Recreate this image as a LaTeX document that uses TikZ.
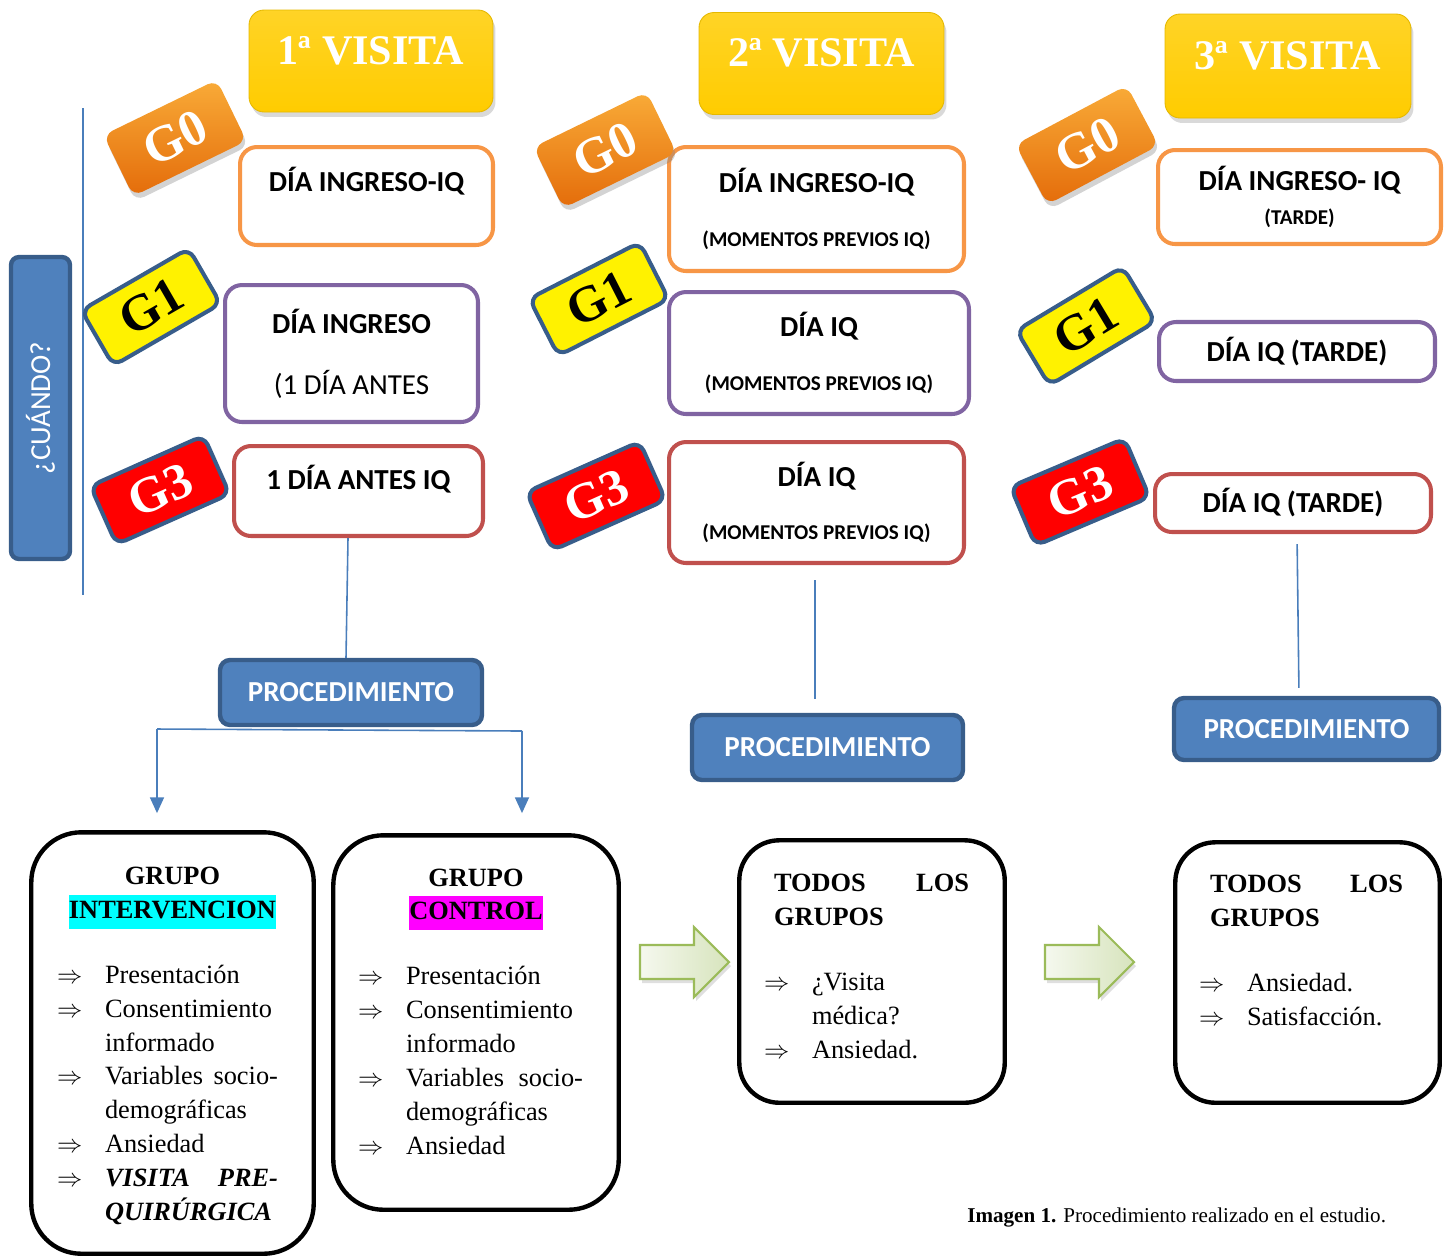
\documentclass[tikz,border=0pt]{standalone}
\usepackage{fontspec}
\setmainfont{Liberation Serif}
\newfontfamily\calibri{Carlito}
\usetikzlibrary{arrows.meta,shadows}
\definecolor{oro}{HTML}{FFCC00}
\definecolor{naranja}{HTML}{F79646}
\definecolor{naranjaosc}{HTML}{E46C0A}
\definecolor{morado}{HTML}{8064A2}
\definecolor{rojo}{HTML}{C0504D}
\definecolor{azul}{HTML}{4F81BD}
\definecolor{azulosc}{HTML}{385D8A}
\definecolor{linea}{HTML}{4A7EBB}
\definecolor{verde}{HTML}{9BBB59}
\definecolor{cian}{HTML}{00FFFF}
\definecolor{fucsia}{HTML}{FF00FF}
\setlength{\fboxsep}{0pt}
\newcommand{\flecha}{\par\hangindent=0.96cm\hangafter=1\noindent\makebox[0.96cm][l]{$\Rightarrow$}}
\newcommand{\subir}[1]{\par\vspace{#1}\hrule height 0pt}
\begin{document}
\begin{tikzpicture}[x=0.02cm, y=-0.02cm,
  bline/.style={draw=linea, line width=0.9pt},
  barrow/.style={bline, -{Triangle[width=8pt,length=9pt]}},
  visita/.style={rounded corners=0.3cm, top color=oro!85!white, bottom color=oro, draw=oro!90!black, line width=0.5pt,
    drop shadow={shadow xshift=0.5mm, shadow yshift=-1mm, opacity=0.3},
    text=white, font=\bfseries\fontsize{24}{28}\selectfont, inner sep=0pt,
    minimum width=4.88cm, minimum height=2.04cm, text height=0.56cm, text depth=0.44cm},
  gbox/.style={rounded corners=0.2cm, inner sep=0pt, minimum width=2.48cm, minimum height=1.28cm,
    draw=azulosc, line width=2.3pt, font=\bfseries\fontsize{29}{32}\selectfont},
  gcero/.style={gbox, draw=none, minimum width=2.52cm, minimum height=1.36cm, top color=naranja!80!yellow,
    bottom color=naranjaosc, text=white, drop shadow={shadow xshift=0.4mm, shadow yshift=-1mm, opacity=0.35}},
  guno/.style={gbox, fill=yellow},
  gtres/.style={gbox, fill=red, text=white},
  dia/.style={rounded corners=0.34cm, draw=#1, line width=2.3pt, fill=white, inner sep=0pt, align=center,
    font=\calibri\bfseries\fontsize{16.5}{20}\selectfont},
  proc/.style={rounded corners=0.2cm, fill=azul, draw=azulosc, line width=2.5pt, text=white, inner sep=0pt,
    font=\calibri\bfseries\fontsize{16.5}{20}\selectfont},
  grupo/.style={rounded corners=1cm, draw=black, line width=2.5pt, inner sep=0pt, align=justify,
    font=\fontsize{15}{19.3}\selectfont},
  garrow/.style={draw=verde, line width=1.2pt, left color=verde!10!white, right color=verde!40!white,
    drop shadow={shadow xshift=0.4mm, shadow yshift=-0.8mm, opacity=0.25}},
]
\useasboundingbox (0,0) rectangle (1449,1259);
\draw (371,61) node[visita] (vis1) {1ª VISITA};
\draw (821.5,63.5) node[visita, minimum width=4.9cm] (vis2) {2ª VISITA};
\draw (1288,66) node[visita, minimum width=4.92cm, minimum height=2.08cm] (vis3) {3ª VISITA};
\draw[bline] (83,108) -- (83,595);
\draw (40.5,408) node[proc, rotate=90, rounded corners=0.16cm, minimum width=6.04cm, minimum height=1.18cm,
  font=\calibri\fontsize{16.5}{20}\selectfont] (cuando) {¿CUÁNDO?};
\draw (366.5,196) node[dia=naranja, minimum width=5.06cm, minimum height=1.96cm, text height=0.38cm, text depth=0.56cm] (d0a) {DÍA INGRESO-IQ};
\draw (351.5,353.5) node[dia=morado, minimum width=5.06cm, minimum height=2.74cm,
  font=\calibri\bfseries\fontsize{16.5}{34.6}\selectfont] (d1a) {DÍA INGRESO\\\mdseries (1 DÍA ANTES};
\draw (358.5,491) node[dia=rojo, minimum width=4.98cm, minimum height=1.8cm, text height=0.38cm, text depth=0.44cm] (d3a) {1 DÍA ANTES IQ};
\draw (816.5,209) node[dia=naranja, minimum width=5.9cm, minimum height=2.48cm,
  font=\calibri\bfseries\fontsize{16.5}{30.5}\selectfont] (d0b) {DÍA INGRESO-IQ\\\fontsize{12}{30.5}\selectfont (MOMENTOS PREVIOS IQ)};
\draw (819,353) node[dia=morado, minimum width=6cm, minimum height=2.44cm,
  font=\calibri\bfseries\fontsize{16.5}{30.5}\selectfont] (d1b) {DÍA IQ\\\fontsize{12}{30.5}\selectfont (MOMENTOS PREVIOS IQ)};
\draw (816.5,502.5) node[dia=rojo, minimum width=5.9cm, minimum height=2.42cm,
  font=\calibri\bfseries\fontsize{16.5}{30.5}\selectfont] (d3b) {DÍA IQ\\\fontsize{12}{30.5}\selectfont (MOMENTOS PREVIOS IQ)};
\draw (1299.5,197) node[dia=naranja, minimum width=5.66cm, minimum height=1.88cm,
  font=\calibri\bfseries\fontsize{16.5}{19.5}\selectfont] (d0c) {DÍA INGRESO- IQ\\\fontsize{12}{19.5}\selectfont (TARDE)};
\draw (1297,351.5) node[dia=morado, minimum width=5.52cm, minimum height=1.18cm] (d1c) {DÍA IQ (TARDE)};
\draw (1293,503) node[dia=rojo, minimum width=5.52cm, minimum height=1.16cm] (d3c) {DÍA IQ (TARDE)};
\draw (175,138) node[gcero, rotate=26] (g0a) {G0};
\draw (151,307) node[guno, rotate=30] (g1a) {G1};
\draw (160,490) node[gtres, rotate=24] (g3a) {G3};
\draw (605,150) node[gcero, rotate=26] (g0b) {G0};
\draw (599,299) node[guno, rotate=27] (g1b) {G1};
\draw (596,496) node[gtres, rotate=24] (g3b) {G3};
\draw (1087,145) node[gcero, rotate=28] (g0c) {G0};
\draw (1086,326) node[guno, rotate=31] (g1c) {G1};
\draw (1080,492) node[gtres, rotate=23] (g3c) {G3};
\draw (351,692.5) node[proc, minimum width=5.24cm, minimum height=1.3cm] (proc1) {PROCEDIMIENTO};
\draw (827.5,747.5) node[proc, minimum width=5.42cm, minimum height=1.3cm] (proc2) {PROCEDIMIENTO};
\draw (1306.5,729) node[proc, minimum width=5.3cm, minimum height=1.24cm] (proc3) {PROCEDIMIENTO};
\draw (172.5,1043) node[grupo, minimum width=5.65cm, minimum height=8.43cm, text width=4.62cm] (inter) {%
  \rightskip=0.2cm
  {\centering\bfseries GRUPO\\\colorbox{cian}{\strut INTERVENCION}\par}\vspace{17.5pt}
  \flecha Presentación
  \flecha Consentimiento\newline informado
  \flecha Variables socio-\linebreak demográficas
  \flecha Ansiedad
  \flecha \textbf{\textit{VISITA PRE-\linebreak QUIRÚRGICA}}\subir{-0.12cm}};
\draw (476,1022.5) node[grupo, minimum width=5.71cm, minimum height=7.49cm, text width=4.72cm] (control) {%
  \rightskip=0.22cm
  {\centering\bfseries GRUPO\\\colorbox{fucsia}{\strut CONTROL}\par}\vspace{17.5pt}
  \flecha Presentación
  \flecha Consentimiento\newline informado
  \flecha Variables socio-\linebreak demográficas
  \flecha Ansiedad\subir{0.44cm}};
\draw (872,971.5) node[grupo, rounded corners=0.8cm, minimum width=5.31cm, minimum height=5.25cm, text width=4.32cm] (todos1) {%
  \rightskip=0.22cm
  {\noindent\bfseries\hspace*{0.2cm}TODOS\hfill LOS\\\hspace*{0.2cm}GRUPOS\par}\vspace{17.5pt}
  \flecha ¿Visita\newline médica?
  \flecha Ansiedad.\subir{0.2cm}};
\draw (1307.5,972.5) node[grupo, rounded corners=0.8cm, minimum width=5.29cm, minimum height=5.21cm, text width=4.34cm] (todos2) {%
  \rightskip=0.26cm
  {\noindent\bfseries\hspace*{0.22cm}TODOS\hfill LOS\\\hspace*{0.22cm}GRUPOS\par}\vspace{17.5pt}
  \flecha Ansiedad.
  \flecha Satisfacción.\subir{0.88cm}};
\draw[bline] ([xshift=-0.21cm]d3a.south) -- ([xshift=-0.1cm]proc1.north);
\draw[bline, shorten <=0.3cm, shorten >=0.28cm] ([xshift=-0.03cm]d3b.south) -- ([xshift=-0.25cm]proc2.north);
\draw[bline, shorten <=0.2cm, shorten >=0.16cm] ([xshift=0.08cm]d3c.south) -- ([xshift=-0.15cm]proc3.north);
\coordinate (izq) at (157,729);
\coordinate (der) at (522,731);
\draw[bline] (izq) -- (der);
\draw[barrow, shorten >=0.34cm] (izq) -- (izq |- inter.north);
\draw[barrow, shorten >=0.4cm] (der) -- (der |- control.north);
\draw[garrow] (640,945) -- (694,945) -- (694,927) -- (729,962) -- (694,997) -- (694,979) -- (640,979) -- cycle;
\draw[garrow] (1045,945) -- (1099,945) -- (1099,927) -- (1134,962) -- (1099,997) -- (1099,979) -- (1045,979) -- cycle;
\draw (967,1222) node[anchor=base west, inner sep=0pt, font=\fontsize{12}{14}\selectfont] (cap) {\textbf{Imagen 1.} Procedimiento realizado en el estudio.};
\end{tikzpicture}
\end{document}
